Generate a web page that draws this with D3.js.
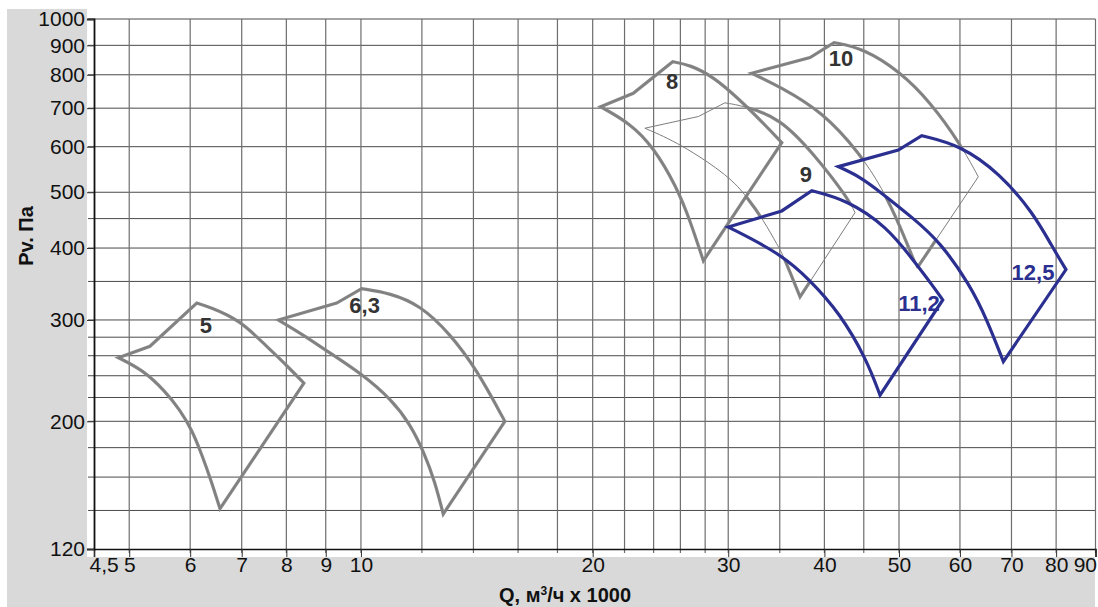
<!DOCTYPE html>
<html><head><meta charset="utf-8">
<script src="https://cdn.jsdelivr.net/npm/d3@7"></script>
<style>body{margin:0;background:#fff}svg{display:block}</style>
</head><body>
<svg id="c" width="1098" height="607"></svg>
<script>
// ---------- axis data ----------
const xLabelTicks = [4.5,5,6,7,8,9,10,20,30,40,50,60,70,80,90];
const xGridValues = [5,6,7,8,9,10,12,14,16,18,20,22,24,26,28,30,35,40,45,50,60,70,80,90];
const yLabelTicks = [120,200,300,400,500,600,700,800,900,1000];
const yGridValues = [140,160,180,200,220,240,260,280,300,350,400,450,500,600,700,800,900,1000];

// ---------- fan shapes: rise (straight), top curve (smooth), lower curve (smooth) ----------
const fan5Rise  = [[4.84,258],[5.32,270],[6.12,321]];
const fan5Top   = [[6.12,321],[6.36,316],[6.96,300],[7.54,270],[8.01,250],[8.43,233]];
const fan5Low   = [[6.56,141],[6.385,158.1],[6.215,174.8],[6.032,193.2],[5.82,209.3],[5.564,225.8],[5.209,245.6],[4.84,258]];

const fan63Rise = [[7.81,300],[9.30,321],[10.02,340]];
const fan63Top  = [[10.02,340],[10.91,334],[11.93,318.5],[13.05,284],[14.14,246],[15.38,200]];
const fan63Low  = [[12.79,138],[12.478,156.9],[12.074,176.9],[11.578,197.9],[10.971,217.8],[10.03,241.7],[9.115,262.8],[8.381,283.6],[7.81,300]];

const fan8Rise  = [[20.48,704],[22.58,743],[25.41,843]];
const fan8Top   = [[25.41,843],[26.76,832],[28.70,794],[31.08,723],[33.32,659],[35.21,610]];
const fan8Low   = [[27.85,380],[26.76,447],[25.71,511],[23.97,600],[22.36,659],[20.48,704]];

const fan9Rise  = [[23.38,646],[27.44,677],[29.7,715]];
const fan9Top   = [[29.7,715],[31.5,706],[35.0,673],[38.67,585],[42.8,491],[43.84,461]];
const fan9Low   = [[37.19,329],[35.35,389],[34.85,402],[33.32,448],[31.7,491],[30.16,532],[25.97,608],[23.38,646]];

const fan10Rise = [[32.18,805],[38.32,857],[41.17,910]];
const fan10Top  = [[41.17,910],[44.94,889],[50.15,810],[54.87,718],[60.02,608],[63.39,532]];
const fan10Low  = [[52.77,369],[50.15,437],[47.53,509],[44.5,583],[39.83,689],[35.0,763],[32.18,805]];

const fan112Rise = [[30.01,435],[35.21,464],[38.52,503]];
const fan112Top  = [[38.52,503],[42.76,485],[48.2,436],[52.19,381],[55.41,343],[56.99,325]];
const fan112Low  = [[47.24,222],[45.4,256],[41.91,308],[38.32,352],[35.0,392],[30.01,435]];

const fan125Rise = [[41.7,554],[49.9,592],[53.52,627]];
const fan125Top  = [[53.52,627],[60.02,604],[67.65,539],[74.72,460],[79.0,403],[82.39,367]];
const fan125Low  = [[68.32,254],[65.07,300],[61.84,345],[56.53,410],[52.14,451],[47.24,501],[44.5,532],[41.7,554]];

const fanNames = ["5","6,3","8","9","10","11,2","12,5"];
const fanLabelQ = [6.29,10.11,25.36,37.83,42.04,53.09,74.66];
const fanLabelP = [293.6,317.9,780.5,537.9,855.8,321.1,363.4];

// ---------- setup ----------
const W = 1098, H = 607;
const svg = d3.select("#c");
const x = d3.scaleLog().domain([4.5, 90]).range([94, 1095.5]);
const y = d3.scaleLog().domain([120, 1000]).range([549, 19]);
const fmt = v => String(v).replace(".", ",");
const NARROW = "'Liberation Sans Narrow','Arial Narrow',sans-serif";
const GRAY = "#878787", BLUE = "#2b3090";

// backgrounds
svg.append("rect").attr("x",0).attr("y",0).attr("width",W).attr("height",H).attr("fill","#fff");
svg.append("rect").attr("x",7).attr("y",9).attr("width",80).attr("height",H-9).attr("fill","#d9d9d9");
svg.append("rect").attr("x",7).attr("y",557).attr("width",1088).attr("height",50).attr("fill","#d9d9d9");

// grid
const grid = svg.append("g");
grid.selectAll("line.h").data(yGridValues).join("line")
  .attr("x1",88).attr("x2",x(90)).attr("y1",d=>y(d)).attr("y2",d=>y(d))
  .attr("stroke","#4a4a4a").attr("stroke-width",1);
grid.selectAll("line.v").data(xGridValues).join("line")
  .attr("x1",d=>x(d)).attr("x2",d=>x(d)).attr("y1",y(1000)).attr("y2",y(120)+4)
  .attr("stroke","#6e6e6e").attr("stroke-width",1.2);

// axes
const xAxis = d3.axisBottom(x).tickValues(xLabelTicks).tickSize(8).tickFormat(fmt);
const gx = svg.append("g").attr("transform",`translate(0,${y(120)})`).call(xAxis);
gx.select(".domain").attr("stroke","#111").attr("stroke-width",1.6);
gx.selectAll(".tick line").attr("stroke","#333");
gx.selectAll(".tick text").attr("font-family",NARROW).attr("font-size",21).attr("fill","#111").attr("dy","0.55em");
gx.selectAll(".tick text").filter(d=>d===4.5).attr("text-anchor","start").attr("dx",-5);
gx.selectAll(".tick text").filter(d=>d===90).attr("text-anchor","end").attr("dx",1);

const yAxis = d3.axisLeft(y).tickValues(yLabelTicks).tickSize(7).tickFormat(d=>d);
const gy = svg.append("g").attr("transform",`translate(${x(4.5)},0)`).call(yAxis);
gy.select(".domain").attr("stroke","#111").attr("stroke-width",1.8);
gy.selectAll(".tick line").attr("stroke","#333");
gy.selectAll(".tick text").attr("font-family",NARROW).attr("font-size",21).attr("fill","#111").attr("dx",1);

// axis titles
const xt = svg.append("text").attr("x",565).attr("y",602).attr("text-anchor","middle")
  .attr("font-family","'Liberation Sans',Arial,sans-serif").attr("font-weight","bold").attr("font-size",20).attr("fill","#111");
xt.append("tspan").text("Q, м");
xt.append("tspan").text("3").attr("font-size",12).attr("baseline-shift","7");
xt.append("tspan").text("/ч x 1000");
svg.append("text").attr("transform","translate(33,236) rotate(-90)").attr("text-anchor","middle")
  .attr("font-family","'Liberation Sans',Arial,sans-serif").attr("font-weight","bold").attr("font-size",20).attr("fill","#111")
  .text("Pv. Па");

// ---------- shapes ----------
function shapePath(rise, top, low){
  const p = d3.path(); let started = false;
  const ctx = {
    moveTo(a,b){ if(started) p.lineTo(a,b); else { p.moveTo(a,b); started = true; } },
    lineTo(a,b){ p.lineTo(a,b); },
    bezierCurveTo(a,b,c,d,e,f){ p.bezierCurveTo(a,b,c,d,e,f); },
    closePath(){ p.closePath(); }
  };
  d3.line().x(d=>x(d[0])).y(d=>y(d[1])).context(ctx)(rise);
  const sm = d3.line().x(d=>x(d[0])).y(d=>y(d[1])).curve(d3.curveBasis).context(ctx);
  sm(top); sm(low);
  p.closePath();
  return p.toString();
}
const paths = {
  "5": shapePath(fan5Rise,fan5Top,fan5Low),
  "6,3": shapePath(fan63Rise,fan63Top,fan63Low),
  "8": shapePath(fan8Rise,fan8Top,fan8Low),
  "9": shapePath(fan9Rise,fan9Top,fan9Low),
  "10": shapePath(fan10Rise,fan10Top,fan10Low),
  "11,2": shapePath(fan112Rise,fan112Top,fan112Low),
  "12,5": shapePath(fan125Rise,fan125Top,fan125Low)
};
// thick strokes are hidden where a later-drawn shape covers them
const coveredBy = {"9":["8","11,2"], "10":["11,2","12,5"]};
const defs = svg.append("defs");
Object.entries(coveredBy).forEach(([k,arr],i)=>{
  const m = defs.append("mask").attr("id","m"+i).attr("maskUnits","userSpaceOnUse")
    .attr("x",0).attr("y",0).attr("width",W).attr("height",H);
  m.append("rect").attr("width",W).attr("height",H).attr("fill","#fff");
  arr.forEach(c=>m.append("path").attr("d",paths[c]).attr("fill","#000"));
});
const grayNames = ["5","6,3","8","9","10"];
const sh = svg.append("g").attr("fill","none").attr("stroke-linejoin","miter");
grayNames.forEach(n=>{
  const idx = Object.keys(coveredBy).indexOf(n);
  const pth = sh.append("path").attr("d",paths[n]).attr("stroke",GRAY).attr("stroke-width",3.2);
  if(idx>=0) pth.attr("mask",`url(#m${idx})`);
});
grayNames.forEach(n=>{
  sh.append("path").attr("d",paths[n]).attr("stroke","#7d7d7d").attr("stroke-width",1);
});
["11,2","12,5"].forEach(n=>{
  sh.append("path").attr("d",paths[n]).attr("stroke",BLUE).attr("stroke-width",3.2);
});

// labels
svg.append("g").selectAll("text").data(fanNames).join("text")
  .attr("x",(d,i)=>x(fanLabelQ[i])).attr("y",(d,i)=>y(fanLabelP[i]))
  .attr("dy","0.36em").attr("text-anchor","middle")
  .attr("font-family",NARROW).attr("font-weight","bold").attr("font-size",22)
  .attr("fill",(d,i)=>i>=5?BLUE:"#333").text(d=>d);
</script>
</body></html>
